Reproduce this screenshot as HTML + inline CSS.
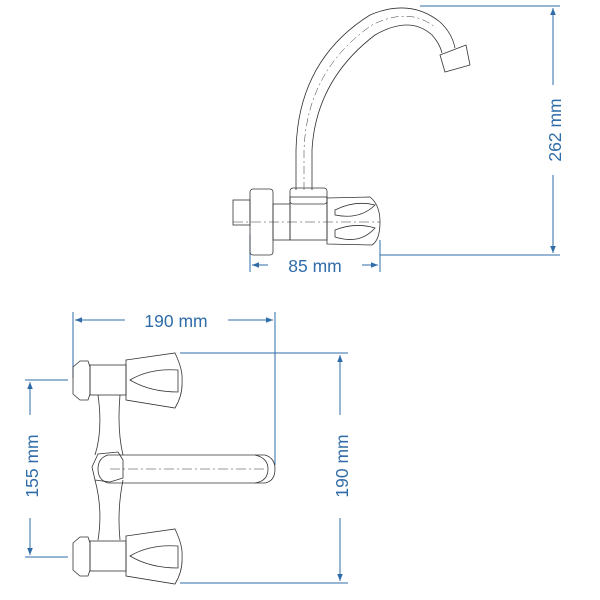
<!DOCTYPE html>
<html><head><style>html,body{margin:0;padding:0;background:#fff}svg{display:block}</style></head><body>
<svg width="600" height="600" viewBox="0 0 600 600" xmlns="http://www.w3.org/2000/svg">
<defs>
<marker id="a" viewBox="0 0 10 10" refX="10" refY="5" markerWidth="9" markerHeight="7" orient="auto-start-reverse"><path d="M0,1 L10,5 L0,9 z" fill="#2f6ca8"/></marker>
</defs>
<g stroke="#2f6ca8" stroke-width="1" fill="none">
<line x1="420" y1="6" x2="560" y2="6"/>
<line x1="380" y1="255" x2="560" y2="255"/>
<line x1="553" y1="8" x2="553" y2="85" marker-start="url(#a)"/>
<line x1="553" y1="175" x2="553" y2="253" marker-end="url(#a)"/>
<line x1="250" y1="235" x2="250" y2="272"/>
<line x1="380" y1="240" x2="380" y2="272"/>
<line x1="252" y1="265" x2="268" y2="265" marker-start="url(#a)"/>
<line x1="362" y1="265" x2="378" y2="265" marker-end="url(#a)"/>
<line x1="73" y1="312" x2="73" y2="378"/>
<line x1="275" y1="312" x2="275" y2="465"/>
<line x1="75" y1="320" x2="125" y2="320" marker-start="url(#a)"/>
<line x1="228" y1="320" x2="273" y2="320" marker-end="url(#a)"/>
<line x1="180" y1="353" x2="348" y2="353"/>
<line x1="180" y1="583" x2="348" y2="583"/>
<line x1="340" y1="355" x2="340" y2="415" marker-start="url(#a)"/>
<line x1="340" y1="518" x2="340" y2="581" marker-end="url(#a)"/>
<line x1="25" y1="380" x2="68" y2="380"/>
<line x1="25" y1="557" x2="68" y2="557"/>
<line x1="30" y1="382" x2="30" y2="415" marker-start="url(#a)"/>
<line x1="30" y1="518" x2="30" y2="555" marker-end="url(#a)"/>
</g>
<g fill="#2f6ca8" font-family="Liberation Sans, sans-serif" font-size="17.5">
<text x="315" y="272" text-anchor="middle">85 mm</text>
<text x="176" y="327" text-anchor="middle">190 mm</text>
<text transform="translate(561,130) rotate(-90)" text-anchor="middle">262 mm</text>
<text transform="translate(348,466) rotate(-90)" text-anchor="middle">190 mm</text>
<text transform="translate(38,466) rotate(-90)" text-anchor="middle">155 mm</text>
</g>
<g stroke="#333" stroke-width="0.8" fill="none">
<path d="M296,190 L296,150 Q298,60 370,15 Q410,-2 440,22 Q452,33 455,48"/>
<path d="M312,190 L312,150 Q316,80 375,35 Q410,15 432,35 Q440,44 442,53"/>
<path d="M304,190 L304,150 Q307,70 372,25 Q410,6 436,28" stroke-dasharray="8,3,2,3" stroke-width="0.5"/>
<path d="M440,55 L466,45 L470,65 L445,72 Z"/>
<rect x="233" y="200" width="17" height="25"/>
<rect x="250" y="189" width="23" height="66" rx="3"/>
<rect x="273" y="204" width="17" height="36"/>
<rect x="290" y="197" width="37" height="43"/>
<rect x="290" y="188" width="37" height="16" rx="3"/>
<path d="M327,198 L370,197 Q380,205 380,222 Q380,240 372,245 L327,244 Z"/>
<path d="M335,210 Q355,200 375,205 Q360,220 335,215 Z"/>
<path d="M335,230 Q355,222 375,228 Q360,245 335,237 Z"/>
<line x1="233" y1="222" x2="380" y2="222" stroke-dasharray="10,3,2,3" stroke-width="0.5"/>
<path d="M73,367 L80,361 L88,361 L90,367 L90,394 L88,400 L80,400 L73,394 Z"/>
<rect x="90" y="365" width="36" height="30"/>
<path d="M126,360 L175,353 Q183,370 182,380 Q183,395 175,408 L126,400 Z"/>
<path d="M130,380 Q150,368 178,370 Q178,385 178,392 Q150,392 130,380 Z"/>
<path d="M73,543 L80,537 L88,537 L90,543 L90,570 L88,576 L80,576 L73,570 Z"/>
<rect x="90" y="541" width="36" height="30"/>
<path d="M126,536 L175,529 Q183,546 182,556 Q183,571 175,584 L126,576 Z"/>
<path d="M130,556 Q150,544 178,546 Q178,561 178,568 Q150,568 130,556 Z"/>
<path d="M98,395 Q103,430 95,455 M120,395 Q117,430 123,455 M95,480 Q103,510 98,540 M123,480 Q117,510 120,540"/>
<path d="M92,467 L98,454 L118,452 L123,460 L123,478 L110,482 L95,480 Z"/>
<path d="M108,455 L265,455 Q275,458 275,469 Q275,481 265,483 L108,483 Q98,480 98,469 Q98,458 108,455 Z"/>
<path d="M255,455 Q268,458 268,469 Q268,481 255,483"/>
<line x1="110" y1="469" x2="265" y2="469" stroke-dasharray="10,3,2,3" stroke-width="0.5"/>
</g>
</svg>
</body></html>
